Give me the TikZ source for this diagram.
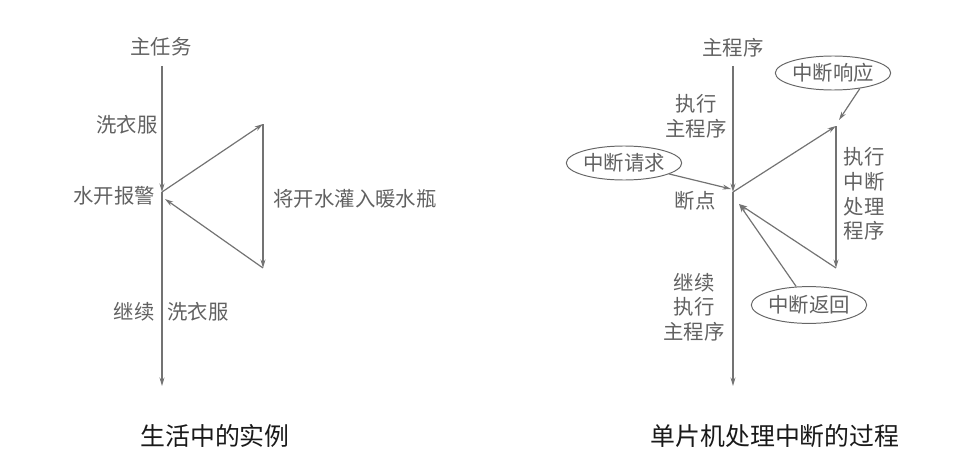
\documentclass[tikz,border=0pt]{standalone}
\usepackage{fontspec}
\setmainfont{Noto Sans CJK SC}
\usetikzlibrary{arrows.meta,positioning,shapes.geometric}

\begin{document}
\begin{tikzpicture}[>={Stealth[length=6pt,width=3.5pt]}, x=0.025cm, y=-0.025cm,
		lbl/.style={text=black!62, font=\fontsize{14.5}{17.5}\selectfont, align=center, inner sep=1pt},
		caption/.style={text=black!90, font=\fontsize{17.7}{20}\selectfont},
		bubble/.style={draw=black!60, line width=0.7pt, ellipse, inner sep=0pt, text=black!62, font=\fontsize{14.5}{17.5}\selectfont},
		flow/.style={draw=black!55, line width=0.85pt}]
		\useasboundingbox (0,0) rectangle (980,466);

		\node[lbl] (T1) at (161,47) {主任务};
		\coordinate (A0) at (162,66);
		\coordinate (Abp) at (162,192);
		\coordinate (Aend) at (162,386);
		\coordinate (Ahi) at (263,124);
		\coordinate (Alo) at (263,268);
		\coordinate (Aret) at (165,199);
		\node[lbl] (Wash) at (127,125) {洗衣服};
		\node[lbl] (Alarm) at (114,196) {水开报警};
		\node[lbl] (Pour) at (355,199) {将开水灌入暖水瓶};
		\node[lbl] (Go) at (134,312) {继续};
		\node[lbl] (Wash2) [right=7pt of Go] {洗衣服};
		\draw[flow,->] (A0) -- (Abp);
		\draw[flow,->] (Abp) -- (Aend);
		\draw[flow,->] (Abp) -- (Ahi);
		\draw[flow,->] (Ahi) -- (Alo);
		\draw[flow,->] (Alo) -- (Aret);
		\node[caption] (C1) at (215,436) {生活中的实例};

		\node[lbl] (T2) at (733,48) {主程序};
		\coordinate (B0) at (733,66);
		\coordinate (Bbp) at (733,192);
		\coordinate (Bend) at (733,386);
		\coordinate (Bhi) at (836,126);
		\coordinate (Blo) at (836,268);
		\coordinate (Bret) at (739,204);
		\coordinate (Breq) at (731,189);
		\coordinate (Bresp) at (839,120);
		\node[lbl] (Run) at (696,116) {执行\\主程序};
		\node[lbl] (Bp) at (695,201) {断点};
		\node[lbl] (Isr) at (864,194) {执行\\中断\\处理\\程序};
		\node[lbl] (Cont) at (694,307) {继续\\执行\\主程序};
		\node[bubble, minimum width=2.7cm, minimum height=0.85cm] (Q) at (624,163) {中断请求};
		\node[bubble, minimum width=2.3cm, minimum height=0.85cm] (R) at (833,73) {中断响应};
		\node[bubble, minimum width=2.45cm, minimum height=0.92cm] (F) at (809,305) {中断返回};
		\draw[flow,->] (B0) -- (Bbp);
		\draw[flow,->] (Bbp) -- (Bend);
		\draw[flow,->] (Bbp) -- (Bhi);
		\draw[flow,->] (Bhi) -- (Blo);
		\draw[flow,->] (Blo) -- (Bret);
		\draw[flow,->] (Q) -- (Breq);
		\draw[flow,->] (R.-30) -- (Bresp);
		\draw[flow,->] (F) -- (Bret);
		\node[caption] (C2) at (775,436) {单片机处理中断的过程};
	\end{tikzpicture}
\end{document}
